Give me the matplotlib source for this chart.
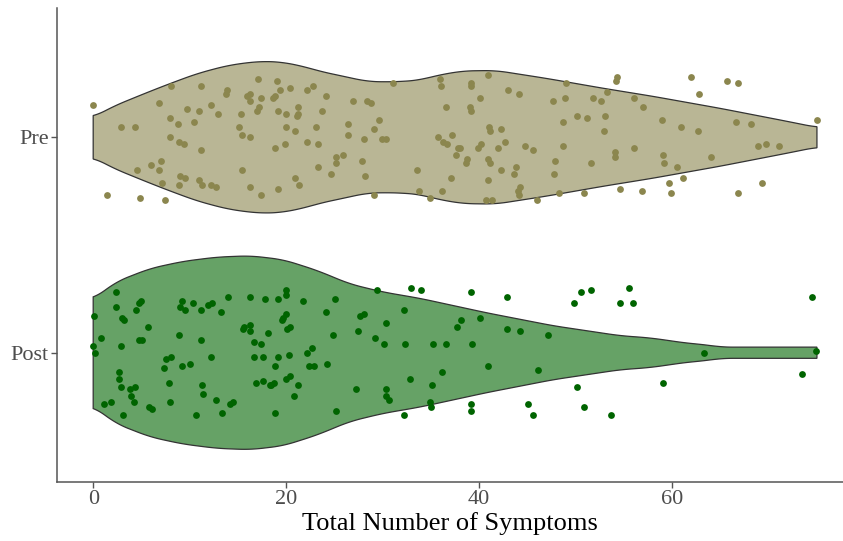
import numpy as np
import matplotlib
matplotlib.use("Agg")
import matplotlib.pyplot as plt

plt.rcParams["font.family"] = ["Liberation Serif", "DejaVu Serif"]

groups = ["Post", "Pre"]
fill_colors = {"Pre": "#B9B695", "Post": "#66A266"}
point_colors = {"Pre": "#8B864E", "Post": "#006400"}

# violin outlines: symptoms value vs half width (category units)
pre_grid = [0, 2.1, 5.6, 8.0, 10.8, 13.9, 16.6, 17.8, 19.4, 21.8, 23.5, 25.3, 28.4,
            30.3, 32.1, 33.9, 35.6, 38.3, 41.7, 47.0, 52.9, 58.0, 65.0, 71.9, 75]
pre_width = [0.093, 0.144, 0.208, 0.25, 0.296, 0.333, 0.35, 0.352, 0.35, 0.329, 0.306,
             0.289, 0.259, 0.257, 0.259, 0.266, 0.287, 0.308, 0.31, 0.273, 0.227, 0.19,
             0.134, 0.074, 0.046]
post_grid = [0, 2.35, 5.9, 9.3, 12.85, 16.3, 19.7, 23.2, 26.6, 30.0, 33.9, 40.8, 47.7,
             54.6, 57.7, 61.6, 63.5, 65.0, 75]
post_width = [0.248, 0.329, 0.391, 0.424, 0.444, 0.45, 0.432, 0.382, 0.319, 0.282,
              0.252, 0.185, 0.125, 0.079, 0.069, 0.044, 0.037, 0.026, 0.026]

# jittered points: symptoms and vertical jitter
pre_x = [0.0, 2.9, 4.3, 8.1, 6.8, 11.2, 13.9, 13.8, 15.9, 16.3, 16.2, 17.1, 17.4, 17.2,
         17.0, 9.7, 11.0, 12.2, 12.9, 15.3, 8.0, 8.8, 10.4, 15.1, 15.4, 16.2, 8.0, 8.9,
         9.4, 11.2, 4.5, 6.0, 7.0, 6.8, 15.4, 9.0, 9.5, 7.1, 8.9, 11.0, 11.3, 12.2, 12.7,
         16.3, 17.4, 1.4, 4.8, 7.4,
         19.0, 19.4, 20.4, 22.2, 22.8, 24.1, 18.8, 18.6, 19.1, 20.0, 21.2, 21.2, 21.1,
         23.7, 20.0, 20.9, 23.1, 26.4, 26.9, 28.4, 28.8, 29.6, 29.1, 26.4, 28.1, 29.9,
         30.3, 18.8, 19.9, 22.2, 23.3, 25.9, 25.2, 25.2, 27.9, 23.3, 24.6, 28.2, 20.9,
         21.3, 19.1, 31.1, 35.9, 36.0, 36.6, 35.7, 36.3, 36.7, 37.2, 37.8, 37.6, 33.6,
         37.1, 33.8, 34.9, 36.1, 29.1,
         40.9, 39.2, 39.2, 43.0, 44.1, 40.1, 39.0, 39.2, 47.6, 48.9, 49.0, 54.3, 54.2,
         53.2, 51.8, 52.6, 56.0, 57.0, 50.1, 51.2, 53.0, 48.7, 52.9, 41.0, 41.1, 42.3,
         42.7, 42.0, 40.2, 39.9, 38.0, 44.7, 45.6, 48.7, 38.7, 38.6, 40.9, 41.1, 42.3,
         43.8, 43.6, 47.9, 47.8, 51.6, 54.1, 54.1, 56.0, 40.9, 44.2, 44.0, 44.1, 40.7,
         41.3, 46.0, 48.3, 50.9, 54.6, 56.9,
         62.0, 65.7, 66.8, 62.8, 58.9, 60.9, 62.7, 66.6, 68.2, 75.0, 68.9, 69.7, 71.1,
         59.0, 59.1, 60.5, 64.0, 59.7, 61.1, 59.9, 66.8, 69.3]
pre_jit = [0.15, 0.05, 0.05, 0.24, 0.16, 0.24, 0.22, 0.20, 0.19, 0.20, 0.17, 0.27, 0.18,
           0.14, 0.12, 0.13, 0.12, 0.15, 0.11, 0.11, 0.09, 0.06, 0.07, 0.05, 0.01, 0.0,
           0.0, -0.02, -0.03, -0.06, -0.15, -0.13, -0.11, -0.15, -0.15, -0.18, -0.19,
           -0.21, -0.22, -0.20, -0.22, -0.22, -0.23, -0.23, -0.27, -0.27, -0.28, -0.29,
           0.26, 0.22, 0.23, 0.22, 0.24, 0.19, 0.19, 0.18, 0.12, 0.11, 0.14, 0.11, 0.10,
           0.12, 0.05, 0.03, 0.05, 0.06, 0.17, 0.17, 0.16, 0.08, 0.04, 0.01, -0.01, -0.01,
           -0.01, -0.05, -0.03, -0.02, -0.03, -0.08, -0.09, -0.12, -0.11, -0.14, -0.17,
           -0.18, -0.19, -0.22, -0.24, 0.25, 0.27, 0.24, 0.14, 0.0, -0.02, -0.03, 0.01,
           -0.05, -0.08, -0.15, -0.19, -0.25, -0.28, -0.25, -0.27,
           0.29, 0.25, 0.24, 0.22, 0.20, 0.18, 0.14, 0.12, 0.17, 0.18, 0.25, 0.28, 0.26,
           0.21, 0.18, 0.17, 0.18, 0.14, 0.10, 0.09, 0.10, 0.07, 0.03, 0.05, 0.03, 0.04,
           -0.02, -0.05, -0.03, -0.05, -0.05, -0.04, -0.06, -0.04, -0.10, -0.12, -0.10,
           -0.12, -0.15, -0.14, -0.17, -0.11, -0.17, -0.12, -0.07, -0.09, -0.05, -0.20,
           -0.23, -0.25, -0.27, -0.29, -0.29, -0.29, -0.26, -0.26, -0.24, -0.25,
           0.28, 0.26, 0.25, 0.20, 0.08, 0.05, 0.03, 0.07, 0.06, 0.08, -0.04, -0.03,
           -0.04, -0.08, -0.12, -0.14, -0.09, -0.21, -0.19, -0.26, -0.26, -0.21]

post_x = [2.4, 0.1, 2.4, 3.0, 3.2, 4.4, 4.7, 5.0, 5.7, 0.8, 0.0, 0.2, 2.9, 4.7, 5.1, 8.9,
          11.2, 9.2, 9.0, 9.5, 10.3, 11.2, 11.9, 12.3, 13.2, 14.0, 16.3, 17.8, 15.6, 15.5,
          16.3, 16.2, 18.1, 16.7, 17.4, 16.7, 17.6, 7.5, 8.1, 7.3, 9.2, 10.0, 12.2, 2.7,
          2.7, 2.9, 3.8, 4.3, 3.9, 4.2, 7.9, 8.0, 1.1, 1.8, 3.1, 5.8, 6.1, 10.7, 11.3,
          11.4, 12.7, 13.4, 14.2, 14.5, 16.9, 17.6, 18.3,
          20.0, 20.0, 19.2, 21.7, 25.1, 29.4, 32.9, 34.0, 32.2, 24.1, 20.0, 19.7, 19.6,
          28.1, 27.7, 30.3, 20.4, 20.1, 24.8, 27.4, 29.2, 30.1, 32.3, 35.2, 36.6, 37.7,
          38.1, 22.7, 22.2, 19.1, 20.3, 18.8, 22.4, 22.9, 24.2, 20.0, 20.4, 18.7, 18.4,
          21.2, 27.2, 30.3, 30.3, 30.7, 32.8, 36.1, 35.1, 20.8, 18.8, 25.2, 32.2, 34.9,
          35.0,
          39.1, 42.9, 40.1, 42.9, 44.2, 47.1, 39.3, 40.9, 46.1, 50.5, 51.6, 49.8, 55.5,
          54.6, 55.9, 50.1, 45.1, 45.6, 50.9, 53.7, 39.2, 39.2,
          74.5, 63.3, 74.9, 73.5, 59.0]
post_jit = [0.28, 0.17, 0.21, 0.16, 0.15, 0.20, 0.23, 0.24, 0.12, 0.07, 0.03, 0.0, 0.03,
            0.06, 0.06, 0.08, 0.06, 0.24, 0.21, 0.20, 0.23, 0.20, 0.22, 0.23, 0.19, 0.26,
            0.26, 0.25, 0.12, 0.11, 0.13, 0.10, 0.09, 0.05, 0.04, -0.02, -0.02, -0.03,
            -0.02, -0.07, -0.06, -0.05, -0.02, -0.09, -0.12, -0.16, -0.17, -0.16, -0.20,
            -0.23, -0.14, -0.23, -0.24, -0.23, -0.29, -0.25, -0.26, -0.29, -0.15, -0.19,
            -0.22, -0.28, -0.24, -0.23, -0.14, -0.13, -0.15,
            0.29, 0.27, 0.25, 0.24, 0.25, 0.29, 0.30, 0.29, 0.20, 0.19, 0.18, 0.16, 0.15,
            0.18, 0.17, 0.14, 0.12, 0.11, 0.08, 0.10, 0.07, 0.04, 0.04, 0.04, 0.04, 0.12,
            0.15, 0.02, 0.0, -0.02, -0.01, -0.06, -0.06, -0.06, -0.05, -0.12, -0.11,
            -0.14, -0.15, -0.15, -0.17, -0.17, -0.20, -0.22, -0.12, -0.09, -0.15, -0.20,
            -0.28, -0.27, -0.29, -0.23, -0.25,
            0.28, 0.26, 0.16, 0.11, 0.10, 0.08, 0.04, -0.06, -0.08, 0.28, 0.29, 0.23,
            0.30, 0.23, 0.23, -0.16, -0.24, -0.29, -0.25, -0.29, -0.24, -0.27,
            0.26, 0.0, 0.01, -0.10, -0.14]

violins = {"Pre": (pre_grid, pre_width), "Post": (post_grid, post_width)}
points = {"Pre": (pre_x, pre_jit), "Post": (post_x, post_jit)}


def smooth_outline(gx, gw, n=600, win=21):
    # resample the read outline and round off the corners a little
    xx = np.linspace(gx[0], gx[-1], n)
    ww = np.interp(xx, gx, gw)
    pad = win // 2
    padded = np.concatenate([np.full(pad, ww[0]), ww, np.full(pad, ww[-1])])
    ww = np.convolve(padded, np.ones(win) / win, mode="valid")
    return xx, ww


fig = plt.figure(figsize=(8.43, 5.41), dpi=100)
ax = fig.add_axes([57 / 843, 59 / 541, 786 / 843, 474 / 541])

for i, g in enumerate(groups):
    pos = i + 1
    gx, gw = smooth_outline(*violins[g])
    xs = np.concatenate([gx, gx[::-1]])
    ys = np.concatenate([pos + gw, (pos - gw)[::-1]])
    ax.fill(xs, ys, facecolor=fill_colors[g], edgecolor="#333333", linewidth=0.9, zorder=1)
    px, pj = points[g]
    ax.scatter(px, pos + np.array(pj), s=24, color=point_colors[g], linewidths=0, zorder=2)

ax.set_xlim(-3.75, 77.7)
ax.set_ylim(0.4, 2.6)
ax.set_xticks([0, 20, 40, 60])
ax.set_yticks([1, 2])
ax.set_yticklabels(groups)
ax.set_xlabel("Total Number of Symptoms", fontsize=19, color="black", labelpad=2)

for side in ["top", "right"]:
    ax.spines[side].set_visible(False)
for side in ["left", "bottom"]:
    ax.spines[side].set_color("#555555")
    ax.spines[side].set_linewidth(1.1)
ax.tick_params(axis="both", colors="#555555", length=4, width=1.0, labelsize=16,
               labelcolor="#4D4D4D", pad=2)

fig.savefig("out.png", dpi=100)
